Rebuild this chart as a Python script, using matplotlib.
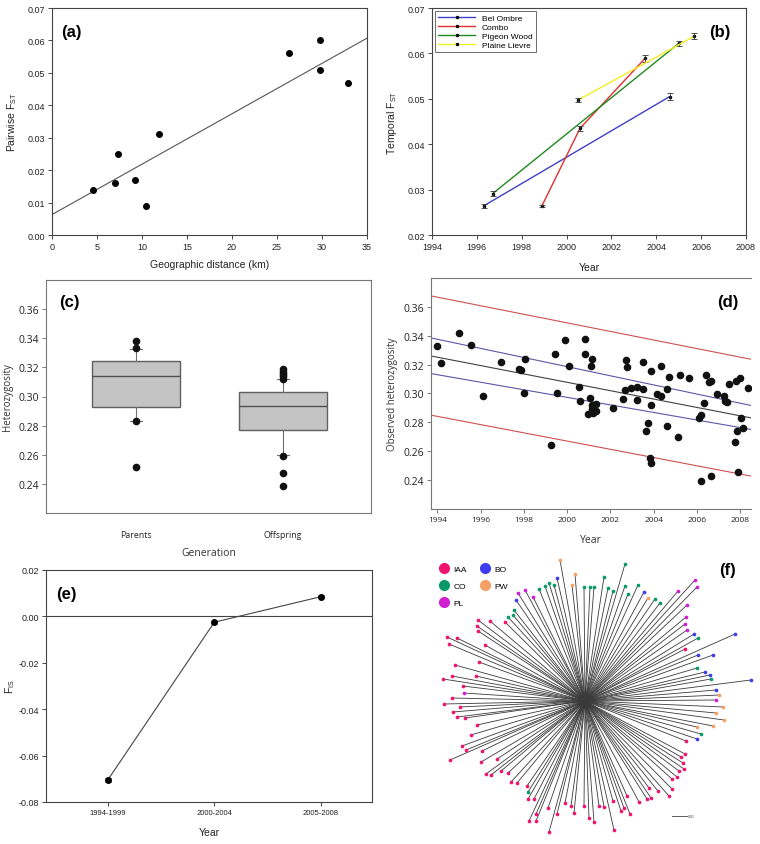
import matplotlib
matplotlib.use('Agg')
import matplotlib.pyplot as plt
from matplotlib.lines import Line2D
from matplotlib.ticker import FormatStrFormatter
import numpy as np

plt.rcParams['font.family'] = ['Liberation Sans', 'DejaVu Sans']
plt.rcParams['mathtext.default'] = 'regular'

W, H = 760, 845

# ---- (a) pairwise Fst vs distance
dist_km = [4.5, 7.0, 7.3, 9.2, 10.4, 11.9, 26.3, 29.8, 29.8, 32.9]
pair_fst = [0.014, 0.016, 0.025, 0.017, 0.009, 0.031, 0.056, 0.060, 0.051, 0.047]
a_fit_x = [0, 35]
a_fit_y = [0.0063, 0.0607]

# ---- (b) temporal Fst per site
b_names = ['Bel Ombre', 'Combo', 'Pigeon Wood', 'Plaine Lievre']
b_colors = ['#4040c8', '#e03030', '#208a20', '#f0f020']
b_years = [[1996.3, 2004.6], [1998.9, 2000.6, 2003.5], [1996.7, 2005.0], [2000.5, 2005.7]]
b_fst = [[0.0264, 0.0505], [0.0264, 0.0435, 0.0589], [0.0291, 0.0622], [0.0497, 0.0638]]
b_err = [[0.0004, 0.0007], [0.0003, 0.0005, 0.0007], [0.0005, 0.0006], [0.0005, 0.0006]]

# ---- (c) heterozygosity box plots
c_groups = ['Parents', 'Offspring']
c_q1 = [0.2926, 0.2768]
c_med = [0.3143, 0.2937]
c_q3 = [0.3241, 0.3031]
c_wlo = [0.2830, 0.2601]
c_whi = [0.3323, 0.3118]
c_fliers = [[0.3383, 0.3330, 0.2830, 0.2514],
            [0.3189, 0.3170, 0.3154, 0.3138, 0.3120, 0.2594, 0.2473, 0.2386]]

# ---- (d) observed heterozygosity over time
d_year = [1994.0, 1994.14, 1994.99, 1995.57, 1996.09, 1996.93, 1997.79, 1997.88, 1998.04, 1998.02,
          1999.24, 1999.45, 1999.51, 1999.91, 2000.08, 2000.56, 2000.57, 2000.84, 2000.82, 2001.13,
          2001.10, 2001.05, 2000.98, 2001.16, 2001.31, 2001.16, 2001.31, 2001.20, 2002.10, 2002.56,
          2002.67, 2002.72, 2002.75, 2002.93, 2003.24, 2003.24, 2003.50, 2003.52, 2003.63, 2003.73,
          2003.86, 2003.86, 2003.83, 2003.87, 2004.13, 2004.33, 2004.36, 2004.63, 2004.63, 2004.73,
          2005.12, 2005.23, 2005.61, 2006.09, 2006.21, 2006.20, 2006.31, 2006.42, 2006.54, 2006.64,
          2006.63, 2006.91, 2007.26, 2007.32, 2007.38, 2007.48, 2007.75, 2007.80, 2007.86, 2007.91,
          2007.98, 2008.05, 2008.11, 2008.35]
d_het = [0.3327, 0.3210, 0.3417, 0.3334, 0.2981, 0.3217, 0.3173, 0.3164, 0.3242, 0.3004,
         0.2640, 0.3272, 0.3004, 0.3374, 0.3191, 0.3046, 0.2951, 0.3378, 0.3274, 0.3240,
         0.3191, 0.2970, 0.2861, 0.2919, 0.2924, 0.2891, 0.2880, 0.2866, 0.2903, 0.2963,
         0.3025, 0.3233, 0.3187, 0.3039, 0.3046, 0.2958, 0.3221, 0.3034, 0.2741, 0.2797,
         0.3154, 0.2917, 0.2550, 0.2518, 0.2995, 0.3189, 0.2984, 0.3034, 0.2778, 0.3113,
         0.2702, 0.3131, 0.3106, 0.2829, 0.2852, 0.2393, 0.2933, 0.3127, 0.3083, 0.3085,
         0.2432, 0.2995, 0.2981, 0.2949, 0.2940, 0.3064, 0.2665, 0.3085, 0.2739, 0.2453,
         0.3104, 0.2831, 0.2760, 0.3037]
d_line_x = [1993.7, 2008.5]
d_fit = [0.3260, 0.2831]
d_ci_hi = [0.3385, 0.2917]
d_ci_lo = [0.3138, 0.2751]
d_pi_hi = [0.3676, 0.3237]
d_pi_lo = [0.2850, 0.2428]

# ---- (e) Fis per period
e_periods = ['1994-1999', '2000-2004', '2005-2008']
e_fis = [-0.0705, -0.0025, 0.0085]
e_err = [0.0008, 0.0006, 0.0007]

# ---- (f) radial tree tips (tree units, root at 0,0)
f_groups = ['IAA', 'CO', 'PL', 'BO', 'PW']
f_colors = ['#f0146e', '#0a9a6a', '#d21ed2', '#3c3cf0', '#f5a064']
iaa_x = [-80, -95, -107, -108, -107, -138, -128, -136, -100, -106, -130, -133, -109, -142, -122, -133,
         -141, -125, -132, -128, -120, -108, -114, -123, -119, -103, -135, -104, -88, -99, -94, -84,
         -77, -74, -68, -58, -57, -51, -37, -49, -56, -49, -36, -20, -14, -28, -11, -1, 4,
         101, 100, 96, 98, 99, 94, 92, 87, 87, 73, 84, 64, 66, 62, 54, 42, 28, 39, 36, 45, 14, 19, 9, 29, 100]
iaa_y = [79, 80, 81, 75, 70, 64, 63, 57, 56, 39, 36, 25, 25, 22, 15, 3,
         -3, -6, -11, -16, -17, -24, -34, -45, -49, -50, -59, -61, -58, -73, -74, -70,
         -72, -81, -82, -85, -98, -98, -107, -113, -120, -120, -131, -102, -105, -113, -112, -105, -117,
         -40, -53, -56, -62, -68, -70, -76, -78, -88, -90, -95, -87, -97, -98, -101, -95, -100, -107, -110, -113, -105, -106, -121, -129, 52]
co_x = [-36, -31, -40, -46, -71, -72, -77, -1, 5, 9, 40, 19, 23, 28, 40, 53, 43, 70, 75, 113, 112, 126, 116, -57]
co_y = [118, 116, 115, 112, 91, 86, 84, 114, 114, 114, 137, 124, 113, 110, 115, 116, 107, 102, 98, 63, 33, 22, -33, -91]
pl_x = [-60, -67, -52, -121, 110, 112, 93, 102, 101, 100, 102, 131]
pl_y = [111, 108, 104, 8, 121, 114, 110, 96, 84, 77, 71, 1]
bo_x = [-28, -69, 59, 109, 150, 113, 128, 120, 125, 166, 131, 112]
bo_y = [123, 101, 109, 67, 67, 46, 46, 29, 26, 21, 11, -38]
pw_x = [-25, -10, -13, 63, 134, 138, 131, 139, 112, 128]
pw_y = [141, 127, 116, 103, 6, -6, -12, -19, -26, -25]

fig = plt.figure(figsize=(W / 100, H / 100), dpi=100)


def px_axes(l, t, r, b):
    return fig.add_axes([l / W, 1 - b / H, (r - l) / W, (b - t) / H])


def style(ax, color='#444444'):
    for s in ax.spines.values():
        s.set_color(color)
        s.set_linewidth(0.8)
    ax.tick_params(direction='out', length=3, width=0.7, color=color, labelsize=6.5,
                   labelcolor='#222222', pad=2)


txt = '#222222'
sans2 = ['Open Sans', 'DejaVu Sans']

# (a)
ax = px_axes(52, 9, 367, 236)
style(ax)
ax.scatter(dist_km, pair_fst, s=16, color='black', zorder=3)
ax.plot(a_fit_x, a_fit_y, color='#555555', lw=0.8)
ax.set_xlim(0, 35)
ax.set_ylim(0, 0.07)
ax.set_xticks(np.arange(0, 36, 5))
ax.set_yticks(np.arange(0, 0.071, 0.01))
ax.yaxis.set_major_formatter(FormatStrFormatter('%.2f'))
ax.set_xlabel('Geographic distance (km)', fontsize=7.5, color=txt, labelpad=6)
ax.set_ylabel('Pairwise F$_{ST}$', fontsize=7.5, color=txt, labelpad=6)
ax.text(0.03, 0.93, '(a)', transform=ax.transAxes, fontsize=12, fontweight='bold', va='top')

# (b)
ax = px_axes(432, 9, 746, 236)
style(ax)
for name, col, xs, ys, es in zip(b_names, b_colors, b_years, b_fst, b_err):
    ax.plot(xs, ys, color=col, lw=1.0, label=name, marker='o', markersize=1.5,
            markerfacecolor='black', markeredgecolor='black')
    ax.errorbar(xs, ys, yerr=es, fmt='none', ecolor='#333333', elinewidth=0.6,
                capsize=2.5, capthick=0.6)
ax.set_xlim(1994, 2008)
ax.set_ylim(0.02, 0.07)
ax.set_xticks(np.arange(1994, 2009, 2))
ax.set_yticks(np.arange(0.02, 0.071, 0.01))
ax.yaxis.set_major_formatter(FormatStrFormatter('%.2f'))
ax.set_xlabel('Year', fontsize=7.5, color=txt, labelpad=8)
ax.set_ylabel('Temporal F$_{ST}$', fontsize=7.5, color=txt, labelpad=6)
leg = ax.legend(loc='upper left', fontsize=6, frameon=True, fancybox=False, handlelength=4.5,
                borderaxespad=0.3, labelspacing=0.15, handletextpad=0.8)
leg.get_frame().set_edgecolor('#444444')
leg.get_frame().set_linewidth(0.7)
ax.text(0.95, 0.93, '(b)', transform=ax.transAxes, fontsize=12, fontweight='bold', va='top', ha='right')

# (c)
ax = px_axes(46, 281, 371, 514)
style(ax, '#777777')
stats = []
for i in range(len(c_groups)):
    stats.append(dict(med=c_med[i], q1=c_q1[i], q3=c_q3[i], whislo=c_wlo[i], whishi=c_whi[i],
                      fliers=c_fliers[i], label=c_groups[i]))
ax.bxp(stats, positions=[1, 2], widths=0.6, patch_artist=True, capwidths=0.08,
       boxprops=dict(facecolor='#c4c4c4', edgecolor='#606060', linewidth=1.0),
       medianprops=dict(color='#505050', linewidth=1.0),
       whiskerprops=dict(color='#707070', linewidth=0.8),
       capprops=dict(color='#707070', linewidth=0.8),
       flierprops=dict(marker='o', markerfacecolor='#111111', markeredgecolor='#111111', markersize=4.5))
ax.set_xlim(0.387, 2.6)
ax.set_ylim(0.22, 0.38)
ax.set_yticks(np.arange(0.24, 0.361, 0.02))
ax.yaxis.set_major_formatter(FormatStrFormatter('%.2f'))
ax.set_xticks([1, 2])
ax.set_xticklabels(c_groups, fontsize=6.3, family=sans2)
ax.tick_params(axis='x', length=0, pad=12)
for lab in ax.get_yticklabels():
    lab.set_family(sans2)
    lab.set_fontsize(7.5)
ax.set_xlabel('Generation', fontsize=7.5, color='#333333', labelpad=6, family=sans2)
ax.set_ylabel('Heterozygosity', fontsize=7, color='#333333', labelpad=4, family=sans2)
ax.text(0.04, 0.94, '(c)', transform=ax.transAxes, fontsize=12, fontweight='bold', va='top')

# (d)
ax = px_axes(431, 279, 751, 510)
style(ax, '#777777')
ax.spines['right'].set_visible(False)
ax.plot(d_line_x, d_pi_hi, color='#d05050', lw=0.8)
ax.plot(d_line_x, d_pi_lo, color='#d05050', lw=0.8)
ax.plot(d_line_x, d_ci_hi, color='#5858a8', lw=0.8)
ax.plot(d_line_x, d_ci_lo, color='#5858a8', lw=0.8)
ax.plot(d_line_x, d_fit, color='#404040', lw=0.8)
ax.scatter(d_year, d_het, s=20, color='#111111', zorder=3)
ax.set_xlim(1993.7, 2008.5)
ax.set_ylim(0.22, 0.38)
ax.set_xticks(np.arange(1994, 2009, 2))
ax.set_yticks(np.arange(0.24, 0.361, 0.02))
ax.yaxis.set_major_formatter(FormatStrFormatter('%.2f'))
for lab in ax.get_yticklabels():
    lab.set_family(sans2)
    lab.set_fontsize(7.5)
for lab in ax.get_xticklabels():
    lab.set_family(sans2)
    lab.set_fontsize(6)
ax.set_xlabel('Year', fontsize=7.5, color='#333333', labelpad=8, family=sans2)
ax.set_ylabel('Observed heterozygosity', fontsize=7, color='#333333', labelpad=4, family=sans2)
ax.text(0.96, 0.93, '(d)', transform=ax.transAxes, fontsize=12, fontweight='bold', va='top', ha='right')

# (e)
ax = px_axes(46, 571, 372, 803)
style(ax)
pos = np.arange(1, len(e_periods) + 1)
ax.axhline(0, color='#444444', lw=0.8)
ax.plot(pos, e_fis, color='#444444', lw=0.8)
ax.errorbar(pos, e_fis, yerr=e_err, fmt='o', color='black', markersize=4, ecolor='#222222',
            elinewidth=0.6, capsize=2, capthick=0.6)
ax.set_xlim(0.42, 3.48)
ax.set_ylim(-0.08, 0.02)
ax.set_xticks(pos)
ax.set_xticklabels(e_periods, fontsize=5.5)
ax.set_yticks(np.arange(-0.08, 0.021, 0.02))
ax.yaxis.set_major_formatter(FormatStrFormatter('%.2f'))
ax.set_xlabel('Year', fontsize=7.5, color=txt, labelpad=8)
ax.set_ylabel('F$_{IS}$', fontsize=7.5, color=txt, labelpad=1)
ax.text(0.03, 0.93, '(e)', transform=ax.transAxes, fontsize=12, fontweight='bold', va='top')

# (f)
ax = px_axes(420, 548, 760, 845)
ax.axis('off')
tips = [(iaa_x, iaa_y), (co_x, co_y), (pl_x, pl_y), (bo_x, bo_y), (pw_x, pw_y)]
for (tx, ty), col in zip(tips, f_colors):
    for x, y in zip(tx, ty):
        ax.plot([0, x], [0, y], color='#3a3a3a', lw=0.6, zorder=1)
for (tx, ty), col in zip(tips, f_colors):
    ax.scatter(tx, ty, s=7, color=col, zorder=3, linewidths=0)
ax.plot([87, 102], [-115, -115], color='#444444', lw=0.6)
ax.text(103, -115, '0.01', fontsize=2.5, va='center', color='#444444')
ax.set_xlim(-165, 175)
ax.set_ylim(-143, 154)
handles = [Line2D([], [], marker='o', linestyle='none', markersize=7, color=c) for c in f_colors]
ax.legend(handles, f_groups, ncol=2, loc='upper left', bbox_to_anchor=(0.03, 0.96), frameon=False,
          fontsize=6, handletextpad=0.1, columnspacing=1.2, labelspacing=1.1, borderaxespad=0.3)
ax.text(0.93, 0.95, '(f)', transform=ax.transAxes, fontsize=12, fontweight='bold', va='top', ha='right')

fig.savefig('out.png', dpi=100)
